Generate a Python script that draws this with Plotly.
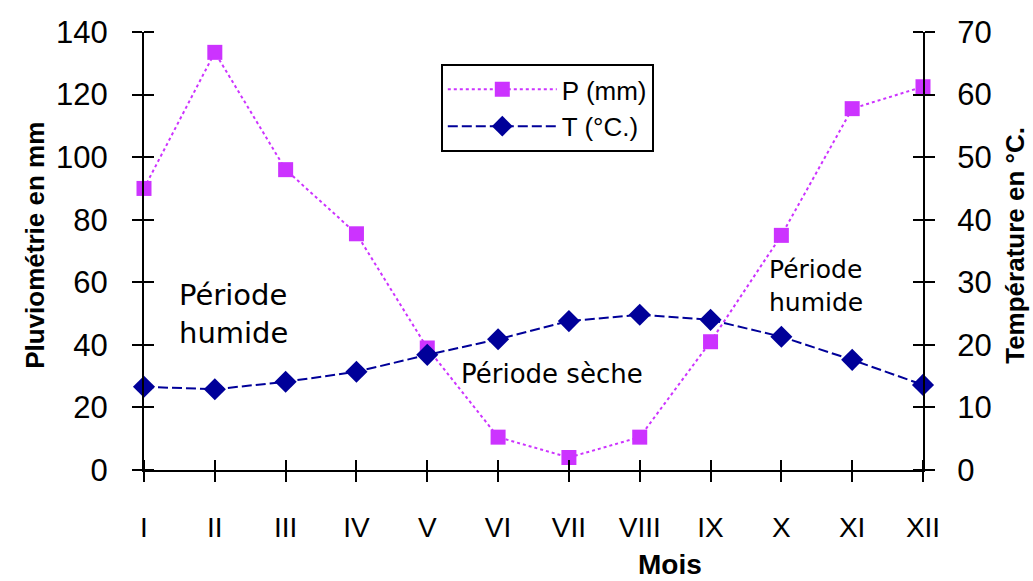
import plotly.graph_objects as go

months = ["I", "II", "III", "IV", "V", "VI", "VII", "VIII", "IX", "X", "XI", "XII"]
precip_mm = [90, 133.5, 96, 75.5, 39, 10.5, 4, 10.5, 41, 75, 115.5, 122.5]
temp_c = [13.3, 12.9, 14.1, 15.7, 18.4, 20.9, 23.8, 24.8, 24.0, 21.3, 17.6, 13.6]
left_ticks = [0, 20, 40, 60, 80, 100, 120, 140]
right_ticks = [0, 10, 20, 30, 40, 50, 60, 70]

P_COLOR = "#CC33FF"
T_COLOR = "#000099"
FONT = "Liberation Sans, Arial, sans-serif"
TXT_FONT = "DejaVu Sans, sans-serif"

fig = go.Figure()
fig.add_trace(go.Scatter(
    x=months, y=precip_mm, name="P (mm)", mode="lines+markers",
    line=dict(color=P_COLOR, width=2, dash="3px,3px"),
    marker=dict(symbol="square", size=15, color=P_COLOR),
    cliponaxis=False, yaxis="y"))
fig.add_trace(go.Scatter(
    x=months, y=temp_c, name="T (°C.)", mode="lines+markers",
    line=dict(color=T_COLOR, width=2, dash="10px,4px"),
    marker=dict(symbol="diamond", size=17, color=T_COLOR),
    cliponaxis=False, yaxis="y2"))

tickfont_y = dict(family=FONT, size=31, color="black")
tickfont_x = dict(family=FONT, size=28, color="black")


def inner_ticks(vals):
    # inner half of the crossing tick marks
    return dict(ticks="inside", ticklen=10, tickwidth=2, tickcolor="black", tickvals=vals)


fig.update_layout(
    width=1033, height=581,
    margin=dict(l=144, r=110, t=32, b=111),
    paper_bgcolor="white", plot_bgcolor="white",
    showlegend=True,
    legend=dict(x=0.381, y=0.927, xanchor="left", yanchor="top",
                bgcolor="white", bordercolor="black", borderwidth=2,
                itemwidth=109, entrywidth=296, entrywidthmode="pixels",
                font=dict(family=FONT, size=26, color="black")),
    xaxis=dict(type="category", categoryorder="array", categoryarray=months,
               range=[0, 11], showgrid=False, zeroline=False,
               showline=True, linecolor="black", linewidth=2,
               ticks="outside", ticklen=10, tickwidth=2, tickcolor="black",
               tickfont=tickfont_x, ticklabelstandoff=21,
               minor=inner_ticks(months)),
    yaxis=dict(range=[0, 140], tickvals=left_ticks, showgrid=False, zeroline=False,
               showline=True, linecolor="black", linewidth=2,
               ticks="outside", ticklen=10, tickwidth=2, tickcolor="black",
               tickfont=tickfont_y, ticklabelstandoff=18,
               minor=inner_ticks(left_ticks)),
    yaxis2=dict(range=[0, 70], tickvals=right_ticks, overlaying="y", side="right",
                anchor="x", showgrid=False, zeroline=False,
                showline=True, linecolor="black", linewidth=2,
                ticks="outside", ticklen=10, tickwidth=2, tickcolor="black",
                tickfont=tickfont_y, ticklabelstandoff=16,
                minor=inner_ticks(right_ticks)),
)

annots = [
    dict(text="Période<br>humide", x=1.27, y=50, xref="x", yref="y",
         font=dict(family=TXT_FONT, size=29, color="black"), align="left"),
    dict(text="Période sèche", x=5.76, y=30.7, xref="x", yref="y",
         font=dict(family=TXT_FONT, size=26, color="black")),
    dict(text="Période<br>humide", x=9.49, y=58.8, xref="x", yref="y",
         font=dict(family=TXT_FONT, size=25, color="black"), align="left"),
    dict(text="<b>Pluviométrie en mm</b>", x=-0.140, y=0.514, xref="paper", yref="paper",
         textangle=-90, font=dict(family=FONT, size=26, color="black")),
    dict(text="<b>Température en °C.</b>", x=1.118, y=0.514, xref="paper", yref="paper",
         textangle=-90, font=dict(family=FONT, size=26, color="black")),
    dict(text="<b>Mois</b>", x=0.675, y=-0.215, xref="paper", yref="paper",
         font=dict(family=FONT, size=28, color="black")),
]
for a in annots:
    a.update(showarrow=False, xanchor="center", yanchor="middle")
    fig.add_annotation(**a)

fig.write_html("out.html")
